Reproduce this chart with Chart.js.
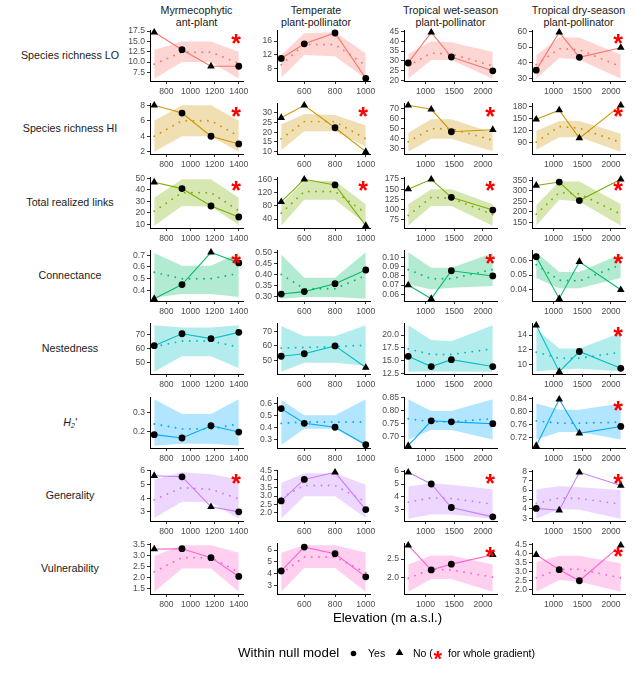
<!DOCTYPE html>
<html>
<head>
<meta charset="utf-8">
<title>Network metrics along elevation gradients</title>
<script src="https://cdn.jsdelivr.net/npm/chart.js@4.4.1/dist/chart.umd.min.js"></script>
<style>
  html,body{margin:0;padding:0;background:#fff;}
  body{width:637px;height:680px;position:relative;overflow:hidden;font-family:"Liberation Sans",Arial,Helvetica,sans-serif;color:#1a1a1a;}
  .abs{position:absolute;white-space:nowrap;}
  canvas{position:absolute;}
  .rowlab{position:absolute;left:0;width:140px;text-align:center;font-size:10.7px;line-height:13px;white-space:nowrap;}
  .rowlab sub{font-size:7px;vertical-align:-2px;line-height:0;}
  .ctitle{position:absolute;top:4px;overflow:hidden;height:26px;}
  .ctitle div{position:absolute;left:0;top:0;width:200px;text-align:center;font-size:10.7px;line-height:12px;white-space:nowrap;}
</style>
</head>
<body>
<div id="root"></div>
<script>
// ---------------- DATA ----------------
const columnTitles = [["Myrmecophytic","ant-plant"],["Temperate","plant-pollinator"],["Tropical wet-season","plant-pollinator"],["Tropical dry-season","plant-pollinator"]];
const metricLabels = ["Species richness LO","Species richness HI","Total realized links","Connectance","Nestedness","<i>H<sub>2</sub>'</i>","Generality","Vulnerability"];
const xAxisTitle = "Elevation (m a.s.l.)";

const elevations = [[700,930,1170,1400],[450,600,800,1000],[700,1100,1450,2170],[700,1100,1450,2170]];
const xTicks = [[800,1000,1200,1400],[600,800,1000],[1000,1500,2000],[1000,1500,2000]];

// 1 = within null model (circle), 0 = not (triangle)
const richLoObs  = [[17.2,13,9,9],[11,15.2,18.3,5.3],[29,44.5,32,25],[35.4,59.3,43.5,49.6]];
const richLoIn   = [[0,1,0,1],[1,1,1,1],[1,0,1,1],[1,0,1,0]];
const richLoMean = [[9.5,12.4,12.4,9.7],[9.2,15,15,9],[27.5,34,33.5,27.5],[39,49,48.3,37.6]];
const richLoLow  = [[6,10,10,6],[5.5,12,11.6,5.2],[21,30.5,30.5,21],[30,43,42,30]];
const richLoHigh = [[13,15,15,12.5],[12,18.2,18.5,12.5],[33.5,40,39.5,34.5],[44.8,56,56,45.2]];
const richLoStar = [1,0,0,1];
const richLoTicks = [["7.5","10.0","12.5","15.0","17.5"],["8","12","16"],["20","25","30","35","40","45"],["30","40","50","60"]];

const richHiObs  = [[8,7,4,3],[27.5,34,22.3,9.8],[73,69,46.5,48.5],[149,172,102,184]];
const richHiIn   = [[0,1,1,1],[0,0,1,0],[0,0,1,0],[0,0,0,0]];
const richHiMean = [[4,6,6,4],[16.5,25.5,25.5,16.5],[36.5,49.5,49.5,38],[92,131,127,91]];
const richHiLow  = [[2,4,4,2],[10.5,20.5,20.5,12.5],[26.5,39.5,39.5,27],[73,104,104,68]];
const richHiHigh = [[6,8,8,6],[24,29.5,29,23.5],[45.5,59,59,45.5],[120,145,145,113]];
const richHiStar = [1,1,1,1];
const richHiTicks = [["2","4","6","8"],["10","15","20","25","30"],["30","40","50","60","70"],["90","120","150","180"]];

const linksObs  = [[46.5,41,26,16.5],[92,160,143,20],[150,174,130,99],[326,342,254,355]];
const linksIn   = [[0,1,1,1],[0,0,1,0],[0,0,1,1],[0,1,1,0]];
const linksMean = [[21.5,37.5,37.5,22],[58,123,123,58],[86,130,128,88],[190,292,286,190]];
const linksLow  = [[9,26,25.5,9.5],[20,98,98,26],[61,109,109,61],[135,258,250,135]];
const linksHigh = [[33,49,49,33],[85,155,155,85],[113,150,150,113],[232,345,345,238]];
const linksStar = [1,1,1,1];
const linksTicks = [["10","20","30","40","50"],["40","80","120","160"],["75","100","125","150","175"],["150","200","250","300","350"]];

const connObs  = [[0.33,0.45,0.725,0.635],[0.311,0.322,0.358,0.42],[0.070,0.055,0.0857,0.080],[0.0624,0.034,0.059,0.040]];
const connIn   = [[0,1,0,1],[1,1,1,1],[0,0,1,1],[1,0,0,0]];
const connMean = [[0.555,0.5,0.5,0.545],[0.40,0.335,0.335,0.395],[0.087,0.077,0.077,0.087],[0.057,0.0465,0.046,0.057]];
const connLow  = [[0.34,0.37,0.37,0.345],[0.29,0.298,0.298,0.29],[0.071,0.065,0.067,0.069],[0.048,0.041,0.041,0.048]];
const connHigh = [[0.72,0.61,0.61,0.72],[0.49,0.385,0.385,0.50],[0.106,0.089,0.089,0.105],[0.0654,0.052,0.052,0.0642]];
const connStar = [1,0,1,1];
const connTicks = [["0.4","0.5","0.6","0.7"],["0.30","0.35","0.40","0.45","0.50"],["0.06","0.07","0.08","0.09","0.10"],["0.04","0.05","0.06"]];

const nestObs  = [[62,70.5,67,71.5],[53,54.7,60,45.3],[15.85,13.85,15.2,13.85],[15.3,9.1,11.8,9.55]];
const nestIn   = [[1,1,1,1],[1,1,1,0],[1,1,1,1],[0,0,1,1]];
const nestMean = [[61.3,65.3,65.3,61],[58.5,59,59.5,60.5],[17.3,16.2,16.2,17.3],[11.7,10.9,10.9,11.7]];
const nestLow  = [[43.5,54.5,54.5,46],[42.5,48.5,48.5,46.5],[12.85,12.9,12.9,12.85],[9.15,9.4,9.5,9.15]];
const nestHigh = [[76.5,75,75,76.5],[73.5,66.5,66.5,74],[21.9,19.05,18.8,21.9],[14.8,12.2,12.2,14.3]];
const nestStar = [0,0,0,1];
const nestTicks = [["50","60","70"],["50","60","70"],["12.5","15.0","17.5","20.0"],["10","12","14"]];

const h2Obs  = [[0.186,0.169,0.231,0.199],[0.558,0.436,0.403,0.258],[0.666,0.761,0.757,0.75],[0.696,0.838,0.734,0.755]];
const h2In   = [[1,1,1,1],[1,1,1,1],[0,1,1,1],[0,0,0,1]];
const h2Mean = [[0.24,0.215,0.215,0.24],[0.435,0.447,0.447,0.447],[0.769,0.757,0.757,0.769],[0.772,0.765,0.765,0.768]];
const h2Low  = [[0.13,0.14,0.14,0.13],[0.255,0.39,0.39,0.25],[0.69,0.726,0.726,0.69],[0.715,0.738,0.738,0.715]];
const h2High = [[0.365,0.29,0.29,0.365],[0.63,0.503,0.503,0.635],[0.843,0.798,0.798,0.843],[0.825,0.806,0.806,0.825]];
const h2Star = [0,0,0,1];
const h2Ticks = [["0.2","0.3"],["0.3","0.4","0.5","0.6"],["0.70","0.75","0.80","0.85"],["0.72","0.76","0.80","0.84"]];

const genObs  = [[5.65,5.57,3.37,3.0],[2.71,3.98,4.40,2.2],[5.9,5.0,3.19,2.47],[4.05,3.85,7.9,6.5]];
const genIn   = [[0,1,0,1],[1,1,0,1],[0,1,1,1],[1,0,0,0]];
const genMean = [[3.88,4.78,4.65,3.95],[2.9,3.62,3.62,2.65],[3.6,3.93,3.88,3.45],[4.57,5.17,5.1,4.5]];
const genLow  = [[2.55,3.75,3.7,2.5],[1.66,2.98,2.98,1.7],[2.33,2.65,2.65,2.33],[2.95,3.95,3.9,2.95]];
const genHigh = [[5.37,5.9,5.75,5.4],[3.77,4.34,4.34,3.67],[4.8,5.05,4.95,4.6],[6.1,6.4,6.3,6.0]];
const genStar = [1,0,1,1];
const genTicks = [["3","4","5","6"],["2.0","2.5","3.0","3.5","4.0","4.5"],["3","4","5","6"],["3","4","5","6","7","8"]];

const vulObs  = [[3.28,3.3,2.9,2.06],[4.25,6.25,5.69,3.75],[2.88,2.2,2.36,2.62],[3.93,3.11,2.5,4.45]];
const vulIn   = [[0,1,1,1],[1,1,1,1],[0,1,1,0],[0,1,1,0]];
const vulMean = [[2.27,2.9,2.9,2.25],[4.0,5.42,5.42,4.1],[1.97,2.22,2.2,2.0],[2.66,3.13,3.13,2.66]];
const vulLow  = [[1.38,2.41,2.41,1.38],[2.5,4.5,4.5,2.5],[1.6,1.95,1.95,1.6],[1.9,2.54,2.45,1.9]];
const vulHigh = [[2.97,3.45,3.45,3.12],[5.78,6.4,6.4,5.8],[2.35,2.6,2.6,2.35],[3.52,3.87,3.87,3.46]];
const vulStar = [0,0,1,1];
const vulTicks = [["1.5","2.0","2.5","3.0","3.5"],["3","4","5","6"],["2.0","2.5"],["2.0","2.5","3.0","3.5","4.0","4.5"]];

// ---------------- STYLE / LAYOUT ----------------
const ROW_COLORS = ["#F8766D","#CD9600","#7CAE00","#00BE67","#00BFC4","#00A9FF","#C77CFF","#FF61CC"];
const FONT = '"Liberation Sans", Arial, Helvetica, sans-serif';
const PLOT_LEFT = [150, 277, 404, 532];
const PLOT_W = 93, PLOT_H = 51, ROW0 = 30, ROW_STEP = 73.3;
const YW = 40, PT = 8, PR = 12, XH = 18;
const TITLE_CX = [196.5, 316, 450.5, 578.5];
const TITLE_CLIP = [0, 0, 498, 0];
const STAR_SIZE = 25;

const metrics = [
  {obs: richLoObs, within: richLoIn, mean: richLoMean, low: richLoLow, high: richLoHigh, star: richLoStar, ticks: richLoTicks},
  {obs: richHiObs, within: richHiIn, mean: richHiMean, low: richHiLow, high: richHiHigh, star: richHiStar, ticks: richHiTicks},
  {obs: linksObs, within: linksIn, mean: linksMean, low: linksLow, high: linksHigh, star: linksStar, ticks: linksTicks},
  {obs: connObs, within: connIn, mean: connMean, low: connLow, high: connHigh, star: connStar, ticks: connTicks},
  {obs: nestObs, within: nestIn, mean: nestMean, low: nestLow, high: nestHigh, star: nestStar, ticks: nestTicks},
  {obs: h2Obs, within: h2In, mean: h2Mean, low: h2Low, high: h2High, star: h2Star, ticks: h2Ticks},
  {obs: genObs, within: genIn, mean: genMean, low: genLow, high: genHigh, star: genStar, ticks: genTicks},
  {obs: vulObs, within: vulIn, mean: vulMean, low: vulLow, high: vulHigh, star: vulStar, ticks: vulTicks}
];

Chart.defaults.font.family = FONT;

function rgba(hex, a) {
  const n = parseInt(hex.slice(1), 16);
  return 'rgba(' + (n >> 16) + ',' + ((n >> 8) & 255) + ',' + (n & 255) + ',' + a + ')';
}
const root = document.getElementById('root');
function rowTop(r) { return Math.round(ROW0 + r * ROW_STEP); }

// column titles
columnTitles.forEach((t, c) => {
  const cx = TITLE_CX[c];
  const outer = document.createElement('div');
  outer.className = 'ctitle';
  outer.style.left = (cx - 100) + 'px';
  outer.style.width = (TITLE_CLIP[c] ? TITLE_CLIP[c] - (cx - 100) : 200) + 'px';
  const inner = document.createElement('div');
  inner.innerHTML = t.join('<br>');
  outer.appendChild(inner);
  root.appendChild(outer);
});

// row labels
metricLabels.forEach((lab, r) => {
  const d = document.createElement('div');
  d.className = 'rowlab';
  d.style.top = (rowTop(r) + PLOT_H / 2 - 6.5) + 'px';
  d.innerHTML = lab;
  root.appendChild(d);
});

function buildPanel(r, c) {
  const m = metrics[r];
  const xs = elevations[c];
  const obs = m.obs[c], inn = m.within[c], mean = m.mean[c], lo = m.low[c], hi = m.high[c];
  const yLabels = m.ticks[c];
  const color = ROW_COLORS[r];
  const all = obs.concat(lo, hi, mean);
  const ymin = Math.min(...all), ymax = Math.max(...all), ypad = 0.05 * (ymax - ymin);
  const xmin = Math.min(...xs), xmax = Math.max(...xs), xpad = 0.05 * (xmax - xmin);
  const pts = arr => xs.map((x, i) => ({x: x, y: arr[i]}));

  const cv = document.createElement('canvas');
  const w = YW + PLOT_W + PR, h = PT + PLOT_H + XH;
  cv.width = w; cv.height = h;
  cv.style.left = (PLOT_LEFT[c] - YW) + 'px';
  cv.style.top = (rowTop(r) - PT) + 'px';
  cv.style.width = w + 'px'; cv.style.height = h + 'px';
  root.appendChild(cv);

  const showStar = !!m.star[c];
  const starPlugin = {
    id: 'gradientStar',
    afterDatasetsDraw(chart) {
      if (!showStar) return;
      const a = chart.chartArea, ctx = chart.ctx, size = STAR_SIZE;
      ctx.save();
      ctx.fillStyle = '#FF0000';
      ctx.font = 'bold ' + size + 'px ' + FONT;
      ctx.textAlign = 'center';
      ctx.textBaseline = 'alphabetic';
      ctx.fillText('*', a.left + 0.925 * (a.right - a.left), a.top + 0.14 * (a.bottom - a.top) + 0.575 * size);
      ctx.restore();
    }
  };

  const tickFont = {size: 8.6, family: FONT};
  new Chart(cv, {
    type: 'line',
    data: {
      datasets: [
        { data: pts(obs), borderColor: color, borderWidth: 1.1, tension: 0,
          pointStyle: inn.map(v => v ? 'circle' : 'triangle'),
          pointRadius: inn.map(v => v ? 3.4 : 4.4),
          pointBackgroundColor: '#000', pointBorderColor: '#000', pointBorderWidth: 0,
          fill: false, clip: false },
        { data: pts(mean), borderColor: color, borderWidth: 1.9, borderDash: [0.01, 7.2],
          borderCapStyle: 'round', pointRadius: 0, fill: false, tension: 0 },
        { data: pts(hi), borderColor: 'rgba(0,0,0,0)', borderWidth: 0, pointRadius: 0,
          backgroundColor: rgba(color, 0.3), fill: '+1', tension: 0 },
        { data: pts(lo), borderColor: 'rgba(0,0,0,0)', borderWidth: 0, pointRadius: 0,
          fill: false, tension: 0 }
      ]
    },
    options: {
      responsive: false, animation: false, events: [],
      layout: {padding: {top: PT, right: PR, left: 0, bottom: 0}},
      plugins: {legend: {display: false}, tooltip: {enabled: false}},
      scales: {
        x: {
          type: 'linear', bounds: 'data', min: xmin - xpad, max: xmax + xpad,
          afterBuildTicks: s => { s.ticks = xTicks[c].map(v => ({value: v})); },
          afterFit: s => { s.height = XH; },
          ticks: {autoSkip: false, maxRotation: 0, minRotation: 0, font: tickFont, color: '#4D4D4D', padding: 2,
                  callback: v => String(v)},
          grid: {display: true, drawOnChartArea: false, drawTicks: true, tickLength: 3, color: '#333333', lineWidth: 1},
          border: {display: true, color: '#000000', width: 1, z: 1}
        },
        y: {
          type: 'linear', bounds: 'data', min: ymin - ypad, max: ymax + ypad,
          afterBuildTicks: s => { s.ticks = yLabels.map(t => ({value: parseFloat(t)})); },
          afterFit: s => { s.width = YW; },
          ticks: {autoSkip: false, font: tickFont, color: '#4D4D4D', padding: 2,
                  callback: (v, i) => yLabels[i]},
          grid: {display: true, drawOnChartArea: false, drawTicks: true, tickLength: 3, color: '#333333', lineWidth: 1},
          border: {display: true, color: '#000000', width: 1, z: 1}
        }
      }
    },
    plugins: [starPlugin]
  });
}

for (let r = 0; r < metrics.length; r++) {
  for (let c = 0; c < elevations.length; c++) buildPanel(r, c);
}

// x axis title
const xt = document.createElement('div');
xt.className = 'abs';
xt.style.cssText = 'left:287.5px;width:200px;text-align:center;top:610px;font-size:13.2px;line-height:16px;color:#000;';
xt.textContent = xAxisTitle;
root.appendChild(xt);
</script>

<!-- legend -->
<div class="abs" style="left:238px;top:645px;font-size:13.3px;line-height:16px;color:#000;">Within null model</div>
<svg class="abs" style="left:349px;top:648.5px" width="9" height="9"><circle cx="4.5" cy="4.5" r="2.8" fill="#000"/></svg>
<div class="abs" style="left:368px;top:647px;font-size:10.5px;line-height:12px;color:#000;">Yes</div>
<svg class="abs" style="left:395px;top:648px" width="9" height="9"><polygon points="4.5,0.5 8.3,7 0.7,7" fill="#000"/></svg>
<div class="abs" style="left:413px;top:647px;font-size:10.5px;line-height:12px;color:#000;">No (</div>
<div class="abs" style="left:433.5px;top:648px;font-size:22px;line-height:22px;font-weight:bold;color:#FF0000;">*</div>
<div class="abs" style="left:448px;top:647px;font-size:10.5px;line-height:12px;color:#000;">for whole gradient)</div>
</body>
</html>
